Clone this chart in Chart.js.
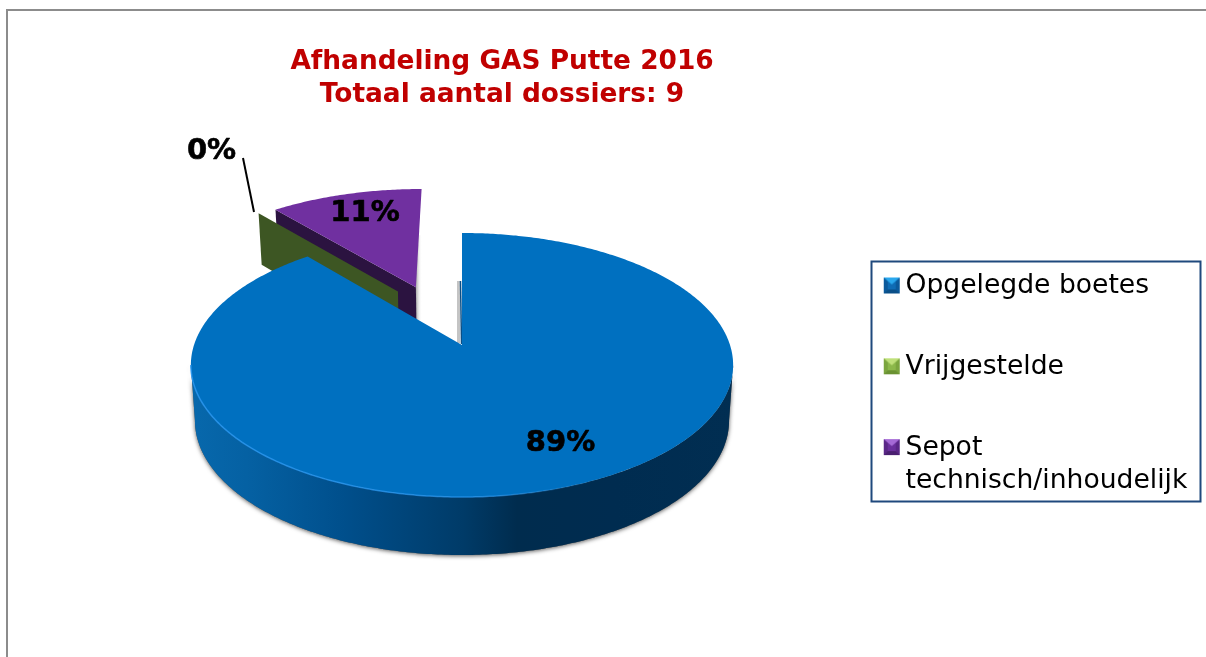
<!DOCTYPE html>
<html><head><meta charset="utf-8">
<style>html,body{margin:0;padding:0;background:#fff}canvas{display:block}</style>
<script src="https://cdn.jsdelivr.net/npm/chart.js@4"></script>
</head><body>
<div style="width:1206px;height:657px"><canvas id="c" width="1206" height="657"></canvas></div>
<script>
const categories = ['Opgelegde boetes', 'Vrijgestelde', 'Sepot technisch/inhoudelijk'];
const legendLines = [['Opgelegde boetes'], ['Vrijgestelde'], ['Sepot', 'technisch/inhoudelijk']];
const dossiers = [8, 0, 1];
const titleLines = ['Afhandeling GAS Putte 2016', 'Totaal aantal dossiers: 9'];

const topColors = ['#0070C0', '#3F5722', '#7030A0'];
const wallColors = ['#003b68', '#3D5623', '#2B1340'];
const explodeDist = [0, 0.51, 0.515];
const explodeDeg = [0, 330, 339];

const KY = 0.4813, KP = 0.1515;
function project(arc, u, v, h) {
  const w = 1 + KP * v, s = 1 - 0.015 * h, R = arc.outerRadius;
  return [arc.x + R * u / w * s, arc.y - KY * R * v / w + h * (55 - 3 * v)];
}
function disc(angle, r, o) { return [o[0] + r * Math.cos(angle), o[1] - r * Math.sin(angle)]; }
function origin(i) {
  const d = explodeDeg[i] * Math.PI / 180;
  return [explodeDist[i] * Math.sin(d), explodeDist[i] * Math.cos(d)];
}
function trace(ctx, pts) { pts.forEach((p, i) => i ? ctx.lineTo(p[0], p[1]) : ctx.moveTo(p[0], p[1])); }
function sweep(arc, o, h, from, to) {
  const pts = [], n = Math.max(1, Math.ceil((to - from) * 90));
  for (let j = 0; j <= n; j++) {
    const p = disc(from + (to - from) * j / n, 1, o);
    pts.push(project(arc, p[0], p[1], h));
  }
  return pts;
}
function arcPts(arc, o, h) { return sweep(arc, o, h, arc.startAngle, arc.endAngle); }
function poly(ctx, pts, fill) { ctx.beginPath(); trace(ctx, pts); ctx.closePath(); ctx.fillStyle = fill; ctx.fill(); }

const marker = (top, light, dark, side) => {
  const c = document.createElement('canvas'); c.width = 32; c.height = 20;
  const x = c.getContext('2d');
  x.translate(8, 1);
  x.fillStyle = top; x.fillRect(0, 0, 16, 16);
  x.fillStyle = side; x.beginPath(); x.moveTo(0, 0); x.lineTo(4, 4); x.lineTo(4, 12); x.lineTo(0, 16); x.fill();
  x.beginPath(); x.moveTo(16, 0); x.lineTo(12, 4); x.lineTo(12, 12); x.lineTo(16, 16); x.fill();
  x.fillStyle = light; x.beginPath(); x.moveTo(0, 0); x.lineTo(16, 0); x.lineTo(8, 7); x.fill();
  x.fillStyle = dark; x.beginPath(); x.moveTo(0, 16); x.lineTo(16, 16); x.lineTo(12, 12); x.lineTo(4, 12); x.fill();
  return c;
};
const markers = [
  marker('#0f6cb5', '#2aa8ee', '#0a4f88', '#0b5a9c'),
  marker('#8cb84a', '#bfe07a', '#6a9232', '#7ba53e'),
  marker('#6a2f9c', '#a56ad6', '#4a1f70', '#5a2787')
];

const pie3d = {
  id: 'pie3d',
  afterLayout(chart) {
    chart.chartArea = {left: 194, right: 730, top: 77, bottom: 613, width: 536, height: 536};
    const t = chart.titleBlock; t.left = 0; t.right = 1004; t.top = 46; t.bottom = 46 + t.height;
    const l = chart.legend; l.left = 837; l.right = 1206; l.top = 219; l.bottom = 640;
  },
  beforeDraw(chart) {
    const c = chart.ctx;
    c.save();
    c.fillStyle = '#fff'; c.fillRect(0, 0, 1206, 657);
    c.fillStyle = '#8c8c8c'; c.fillRect(6, 9, 1200, 2); c.fillRect(6, 9, 2, 648);
    c.strokeStyle = '#1F497D'; c.lineWidth = 2; c.strokeRect(871.5, 261.5, 329, 240);
    c.restore();
  },
  beforeDatasetsDraw(chart) {
    const c = chart.ctx, arcs = chart.getDatasetMeta(0).data;
    c.save();
    const apex = (arc, o, h) => project(arc, o[0], o[1], h);

    // Sepot slice, exploded to the back
    const ps = arcs[2], po = origin(2), pTop = arcPts(ps, po, 0), pa = apex(ps, po, 0), pb = apex(ps, po, 1);
    const sh = c.createLinearGradient(pa[0], 0, pa[0] + 6, 0);
    sh.addColorStop(0, '#a8a8a8'); sh.addColorStop(1, 'rgba(255,255,255,0)');
    c.fillStyle = sh; c.fillRect(pa[0], pa[1] - 52, 6, 85);
    poly(c, [pa, pTop[0], project(ps, ...disc(ps.startAngle, 1, po), 1), pb], wallColors[2]);
    poly(c, [pa, ...pTop], topColors[2]);

    // Vrijgestelde: a zero-angle slice shows only its wall
    const gs = arcs[1], go = origin(1);
    poly(c, [apex(gs, go, 0), project(gs, ...disc(gs.startAngle, 1, go), 0),
             project(gs, ...disc(gs.startAngle, 1, go), 1), apex(gs, go, 1)], wallColors[1]);

    // Opgelegde boetes: front wall with a soft contact shadow
    const bs = arcs[0], bo = origin(0), bTop = arcPts(bs, bo, 0), ba = apex(bs, bo, 0);
    const a0 = Math.asin(KP), a1 = Math.PI - a0;
    const wall = [...sweep(bs, bo, 0, a0, a1), ...sweep(bs, bo, 1, a0, a1).reverse()];
    c.save();
    c.shadowColor = 'rgba(0,0,0,.65)'; c.shadowBlur = 4; c.shadowOffsetY = 1;
    poly(c, wall, '#555');
    c.restore();
    const g = c.createLinearGradient(192, 0, 734, 0);
    [[0, '#0768ac'], [0.1, '#0561a3'], [0.28, '#004f8c'], [0.5, '#003b68'], [0.6, '#002c4e'], [0.78, '#002c50'], [1, '#012e52']]
      .forEach(s => g.addColorStop(s[0], s[1]));
    poly(c, wall, g);

    // thin shaded sliver along the notch wall at twelve o'clock
    c.fillStyle = '#c4c4c4'; c.fillRect(ba[0] - 5, ba[1] - 64, 3, 62);
    c.strokeStyle = '#0b4f86'; c.lineWidth = 1.5;
    c.beginPath(); c.moveTo(ba[0] - 1.5, ba[1] - 64); c.lineTo(ba[0] - 0.5, ba[1] - 1); c.stroke();

    poly(c, [ba, ...bTop], topColors[0]);

    // bevel highlight on the front rim
    const hl = c.createLinearGradient(192, 0, 600, 0);
    hl.addColorStop(0, 'rgba(40,150,240,.85)'); hl.addColorStop(0.7, 'rgba(40,150,240,.7)'); hl.addColorStop(1, 'rgba(40,150,240,0)');
    c.strokeStyle = hl; c.lineWidth = 1.5;
    c.beginPath(); trace(c, sweep(bs, bo, 0, a0 + 0.6, a1)); c.stroke();

    // leader line and value labels
    c.strokeStyle = '#000'; c.lineWidth = 2;
    c.beginPath(); c.moveTo(243, 158); c.lineTo(254, 212); c.stroke();
    const total = dossiers.reduce((a, b) => a + b, 0);
    const labelShift = [[98.5, 98], [-250.5, -194], [-97, -132]];
    c.fillStyle = '#000'; c.strokeStyle = '#000'; c.lineWidth = 0.6; c.lineJoin = 'round';
    c.font = 'bold 29px "DejaVu Sans"'; c.textAlign = 'center'; c.textBaseline = 'middle';
    dossiers.forEach((v, i) => {
      const t = Math.round(v / total * 100) + '%', x = arcs[0].x + labelShift[i][0], y = arcs[0].y + labelShift[i][1];
      c.fillText(t, x, y); c.strokeText(t, x, y);
    });
    c.restore();
    return false;
  }
};

new Chart(document.getElementById('c'), {
  type: 'pie',
  data: { labels: categories, datasets: [{ data: dossiers, backgroundColor: topColors, borderWidth: 0 }] },
  plugins: [pie3d],
  options: {
    responsive: false, animation: false,
    plugins: {
      tooltip: { enabled: false },
      title: { display: true, text: titleLines, color: '#C00000', padding: 0,
        font: { family: '"DejaVu Sans"', size: 26.4, weight: 'bold', lineHeight: 1.25 } },
      legend: { display: true, position: 'right', align: 'start',
        labels: { color: '#000', font: { family: '"DejaVu Sans"', size: 26.6, lineHeight: 1.24 }, padding: 54.2, boxHeight: 16, pointStyleWidth: 1,
          usePointStyle: true,
          generateLabels: () => legendLines.map((t, i) => ({ text: t.length > 1 ? t : t[0], pointStyle: markers[i], fillStyle: topColors[i], lineWidth: 0, index: i, hidden: false })) } }
    }
  }
});
</script>
</body></html>
